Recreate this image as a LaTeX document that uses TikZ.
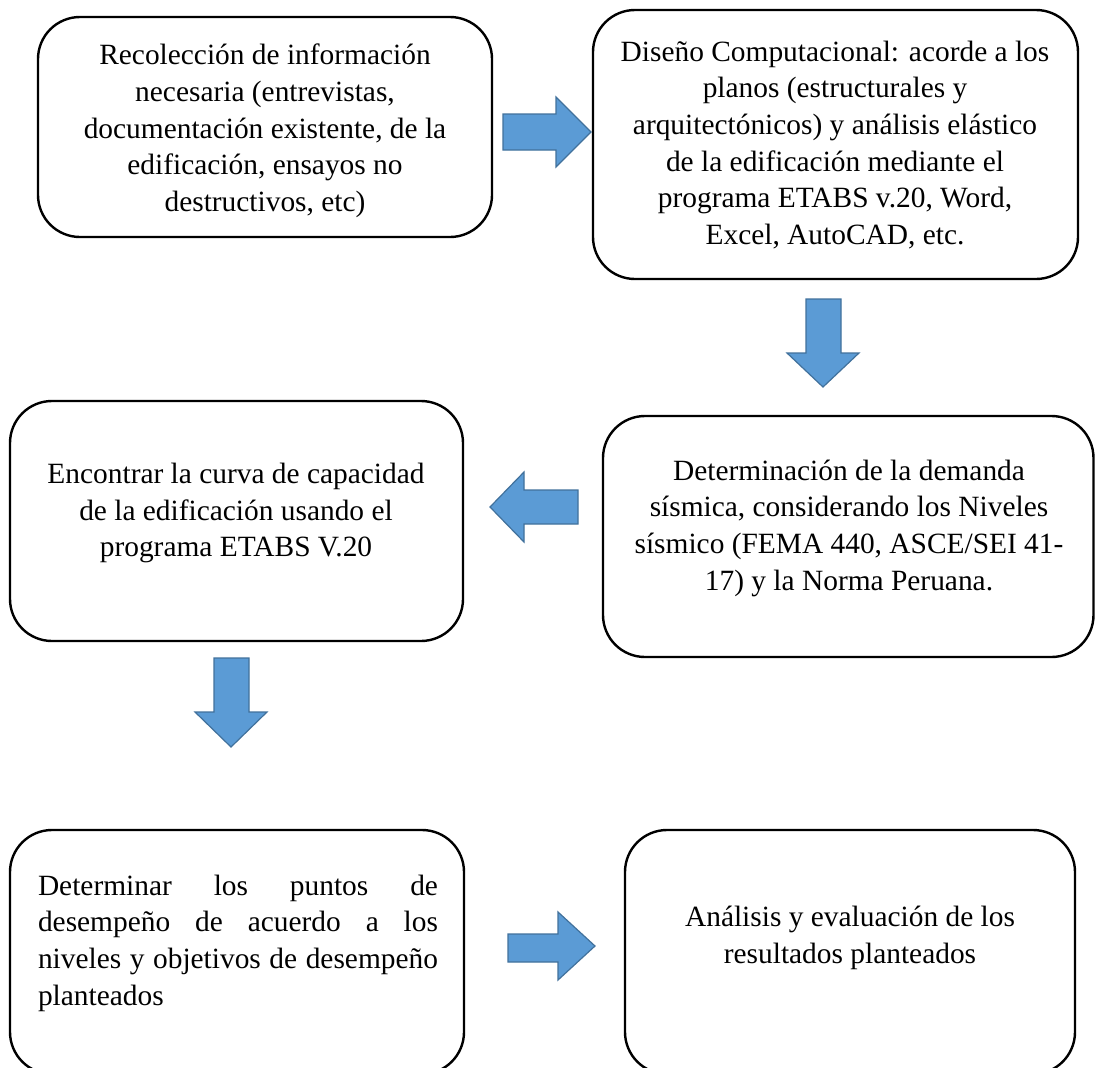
\documentclass[tikz,border=0pt]{standalone}
\usepackage{fontspec}
\setmainfont{Liberation Serif}
\begin{document}
\begin{tikzpicture}[x=1pt,y=-1pt,
  box/.style={draw=black, line width=2.4pt, rounded corners=42pt},
  txt/.style={font=\fontsize{29.4}{36.7}\selectfont, align=center, inner sep=0pt},
  barrow/.style={fill=arrowfill, draw=arrowline, line width=1.2pt, line join=miter}]
\definecolor{arrowfill}{HTML}{5B9BD5}
\definecolor{arrowline}{HTML}{41719C}
\clip (0,0) rectangle (1095,1068);
\fill[white] (0,0) rectangle (1095,1068);
% boxes
\draw[box] (38,17) rectangle (492,237);
\draw[box] (593,10) rectangle (1078,279);
\draw[box] (10,401) rectangle (463,641);
\draw[box] (603,416) rectangle (1093.5,657);
\draw[box] (10,830) rectangle (464,1074);
\draw[box] (625,830) rectangle (1075,1074);
% texts
\node[txt] (t1) at (265,131) {Recolección de información\\necesaria (entrevistas,\\documentación existente, de la\\edificación, ensayos no\\destructivos, etc)};
\node[txt] (t2) at (835,145) {Diseño Computacional: acorde a los\\planos (estructurales y\\arquitectónicos) y análisis elástico\\de la edificación mediante el\\programa ETABS v.20, Word,\\Excel, AutoCAD, etc.};
\node[txt] (t3) at (236,513) {Encontrar la curva de capacidad\\de la edificación usando el\\programa ETABS V.20};
\node[txt] (t4) at (849,528) {Determinación de la demanda\\sísmica, considerando los Niveles\\sísmico (FEMA 440, ASCE/SEI 41-\\17) y la Norma Peruana.};
\node[txt, align=justify, text width=400pt] (t5) at (238,943) {Determinar los puntos de\linebreak desempeño de acuerdo a los\linebreak niveles y objetivos de desempeño\linebreak planteados};
\node[txt] (t6) at (850,938) {Análisis y evaluación de los\\resultados planteados};
% block arrows
\draw[barrow] (503,114) -- (556,114) -- (556,97) -- (591,132) -- (556,167) -- (556,150) -- (503,150) -- cycle;
\draw[barrow] (806,299) -- (841,299) -- (841,353) -- (859,353) -- (823,387) -- (787,353) -- (806,353) -- cycle;
\draw[barrow] (578,490) -- (524,490) -- (524,472) -- (490,507) -- (524,542) -- (524,524) -- (578,524) -- cycle;
\draw[barrow] (214,658) -- (249,658) -- (249,712) -- (267,712) -- (231,747) -- (195,712) -- (214,712) -- cycle;
\draw[barrow] (508,934) -- (558,934) -- (558,912) -- (595,946) -- (558,980) -- (558,962) -- (508,962) -- cycle;
\end{tikzpicture}
\end{document}
